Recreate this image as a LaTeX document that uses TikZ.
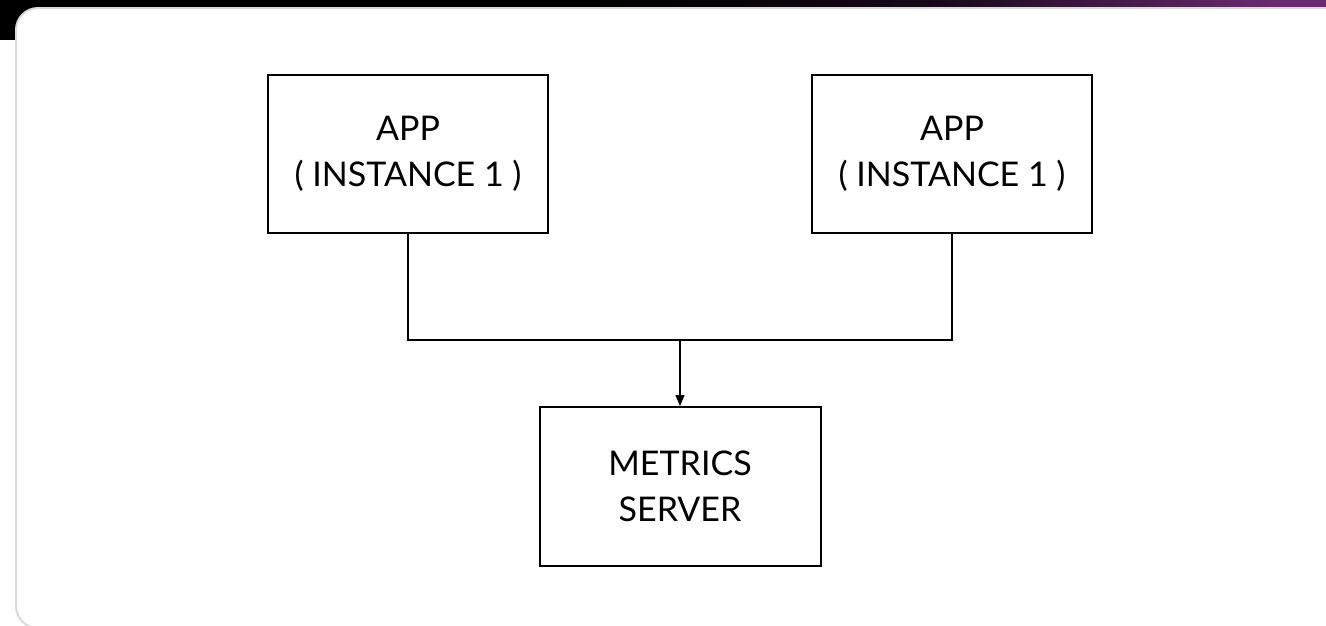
\documentclass[tikz,border=0pt]{standalone}
\usepackage{fontspec}
\setmainfont{Lato}
\usetikzlibrary{arrows.meta}
\definecolor{bandpurple}{HTML}{6B2A71}
\definecolor{cardgrey}{HTML}{DADADA}
\pgfdeclarehorizontalshading{topband}{100bp}{color(0bp)=(black); color(47bp)=(black); color(60bp)=(black!80!bandpurple); color(73bp)=(bandpurple); color(100bp)=(bandpurple)}
\tikzset{
  appbox/.style={draw=black, line width=2pt, minimum width=280pt, minimum height=158pt, align=center, inner sep=0pt,
    font=\fontsize{34}{46}\selectfont},
  link/.style={draw=black, line width=1.4pt},
}
\begin{document}
\begin{tikzpicture}[x=1pt,y=1pt]
\useasboundingbox (0,0) rectangle (1326,-625);
\clip (0,0) rectangle (1326,-625);
% background
\fill[white] (0,0) rectangle (1326,-625);
\shade[shading=topband] (0,0) rectangle (1326,-8);
\fill[black] (0,0) rectangle (40,-40);
% card
\draw[cardgrey, line width=2pt, fill=white, rounded corners=22pt] (16,-8) rectangle (1360,-628);
% nodes
\node[appbox] (app1) at (408,-153.5) {APP\\( INSTANCE 1 )};
\node[appbox] (app2) at (952,-153.5) {APP\\( INSTANCE 1 )};
\node[appbox, minimum width=281pt, minimum height=159pt] (metrics) at (680,-486.5) {METRICS\\SERVER};
\coordinate (join) at (680,-340);
% connectors
\draw[link] (app1.south) |- (join) -| (app2.south);
\draw[link, -{Triangle[length=11pt,width=9pt]}] (join) -- (metrics.north);
\end{tikzpicture}
\end{document}
